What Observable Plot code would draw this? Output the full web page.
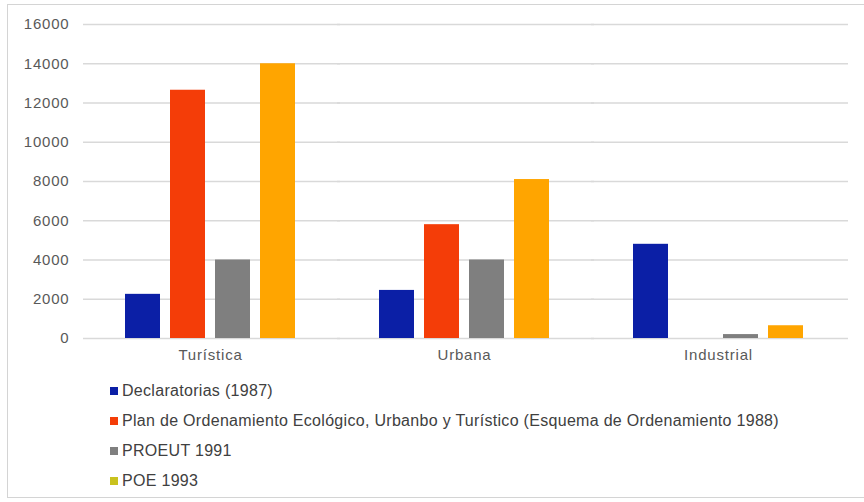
<!DOCTYPE html>
<html>
<head>
<meta charset="utf-8">
<script src="https://cdn.jsdelivr.net/npm/d3@7"></script>
<script src="https://cdn.jsdelivr.net/npm/@observablehq/plot@0.6"></script>
<style>
  html, body { margin: 0; padding: 0; background: #fff; }
  #wrap { position: relative; width: 864px; height: 502px; overflow: hidden; font-family: "Liberation Sans", Arial, sans-serif; }
  #frame { position: absolute; left: 7px; top: 4px; width: 870px; height: 494px; border: 1.5px solid #d4d4d4; box-sizing: border-box; }
  #chart { position: absolute; left: 0; top: 0; }
  #legend { position: absolute; left: 110px; top: 381px; }
  .item { height: 30px; display: flex; align-items: flex-start; font-size: 16px; letter-spacing: 0.3px; color: #404040; line-height: 20px; }
  .sw { width: 8px; height: 8px; margin-right: 4px; margin-top: 6px; }
  #chart svg text { letter-spacing: 0.8px; }
</style>
</head>
<body>
<div id="wrap">
  <div id="frame"></div>
  <div id="chart"></div>
  <div id="legend"></div>
</div>
<script>
const categories = ["Turística", "Urbana", "Industrial"];
const series = [
  "Declaratorias (1987)",
  "Plan de Ordenamiento Ecológico, Urbanbo y Turístico (Esquema de Ordenamiento 1988)",
  "PROEUT 1991",
  "POE 1993"
];
const declaratorias = [2250, 2450, 4800];
const planOrdenamiento = [12650, 5800, 0];
const proeut = [4000, 4000, 200];
const poe = [14000, 8100, 650];
const yTicks = [0, 2000, 4000, 6000, 8000, 10000, 12000, 14000, 16000];
const colors = ["#0b1fa6", "#f43d08", "#7f7f7f", "#ffa500"];
const legendColors = ["#0b1fa6", "#f43d08", "#7f7f7f", "#c9c21e"];

const valuesBySeries = [declaratorias, planOrdenamiento, proeut, poe];
const data = [];
categories.forEach((c, i) => {
  series.forEach((s, j) => {
    data.push({ category: c, series: s, value: valuesBySeries[j][i] });
  });
});

const chart = Plot.plot({
  width: 864,
  height: 372,
  marginLeft: 82,
  marginRight: 18,
  marginTop: 24,
  marginBottom: 34,
  style: { fontFamily: "'Liberation Sans', Arial, sans-serif", fontSize: "15px", color: "#595959", background: "transparent" },
  fx: { domain: categories, padding: 0, label: null, axis: "bottom", tickSize: 0, tickPadding: 11 },
  x: { domain: series, paddingInner: 0.217, paddingOuter: 0.87, axis: null },
  y: { domain: [0, 16000], ticks: yTicks, label: null, tickSize: 0, tickPadding: 14, tickFormat: d => String(d) },
  color: { domain: series, range: colors },
  marks: [
    Plot.ruleY(yTicks, { stroke: "#d9d9d9", strokeWidth: 1.3, insetRight: -3 }),
    Plot.barY(data, { fx: "category", x: "series", y: "value", fill: "series" })
  ]
});
document.getElementById("chart").appendChild(chart);

const legend = document.getElementById("legend");
series.forEach((s, j) => {
  const d = document.createElement("div");
  d.className = "item";
  const sw = document.createElement("div");
  sw.className = "sw";
  sw.style.background = legendColors[j];
  const t = document.createElement("span");
  t.textContent = s;
  d.appendChild(sw);
  d.appendChild(t);
  legend.appendChild(d);
});
</script>
</body>
</html>
